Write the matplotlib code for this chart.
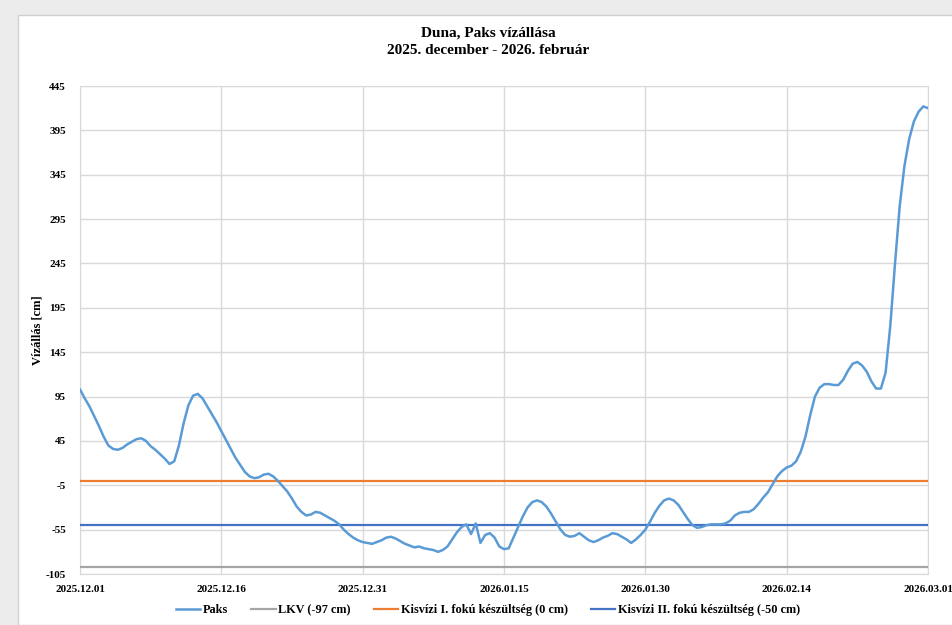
import pandas as pd
import matplotlib
matplotlib.use("Agg")
import matplotlib.pyplot as plt
import matplotlib.dates as mdates
from matplotlib.patches import Rectangle

# Paks vízállás (cm), félnapos leolvasás 2025.12.01-től
paks = [
    103, 93, 84, 73, 62, 50, 40, 36, 35, 37,
    41, 44, 47, 48, 45, 39, 35, 30, 25, 19,
    22, 40, 65, 85, 96, 98, 93, 84, 75, 66,
    56, 46, 36, 26, 18, 10, 5, 3, 4, 7,
    8, 5, 0, -6, -12, -20, -29, -35, -39, -38,
    -35, -36, -39, -42, -45, -49, -55, -60, -64, -67,
    -69, -70, -71, -69, -67, -64, -63, -65, -68, -71,
    -73, -75, -74, -76, -77, -78, -80, -78, -74, -66,
    -58, -52, -49, -60, -48, -70, -61, -59, -64, -74,
    -77, -76, -64, -52, -40, -30, -24, -22, -24, -29,
    -37, -46, -55, -61, -63, -62, -59, -63, -67, -69,
    -67, -64, -62, -59, -60, -63, -66, -70, -66, -61,
    -55, -46, -36, -28, -22, -20, -22, -27, -35, -43,
    -50, -53, -52, -50, -49, -49, -49, -48, -45, -39,
    -36, -35, -35, -32, -26, -19, -13, -4, 5, 11,
    15, 17, 22, 33, 50, 74, 95, 105, 109, 109,
    108, 108, 114, 124, 132, 134, 130, 123, 112, 104,
    104, 122, 175, 245, 310, 355, 385, 405, 416, 422,
    420,
]
idopontok = pd.date_range("2025-12-01", periods=len(paks), freq="12h")

lkv = -97
kisviz_1 = 0
kisviz_2 = -50

y_ticks = [-105, -55, -5, 45, 95, 145, 195, 245, 295, 345, 395, 445]
x_ticks = pd.to_datetime(["2025-12-01", "2025-12-16", "2025-12-31", "2026-01-15",
                          "2026-01-30", "2026-02-14", "2026-03-01"])

plt.rcParams["font.family"] = ["Liberation Serif", "DejaVu Serif"]
plt.rcParams["font.weight"] = "bold"
plt.rcParams["axes.unicode_minus"] = False

fig = plt.figure(figsize=(9.52, 6.25), dpi=100)
fig.patch.set_facecolor("#ececec")
# fehér diagramterület a szürke háttéren
fig.add_artist(Rectangle((18 / 952, 0), 1, 1 - 15 / 625, transform=fig.transFigure,
                         facecolor="white", edgecolor="#d0d0d0", lw=1, zorder=-10))

ax = fig.add_axes([80 / 952, 1 - 574 / 625, 848 / 952, 488 / 625])
ax.set_facecolor("white")

ax.plot(idopontok, paks, color="#5b9bd5", lw=1.8, label="Paks", zorder=5)
ax.axhline(lkv, color="#a5a5a5", lw=1.6, label="LKV (-97 cm)", zorder=4)
ax.axhline(kisviz_1, color="#ed7d31", lw=1.6, label="Kisvízi I. fokú készültség (0 cm)", zorder=4)
ax.axhline(kisviz_2, color="#4472c4", lw=1.6, label="Kisvízi II. fokú készültség (-50 cm)", zorder=4)

ax.set_xlim(x_ticks[0], x_ticks[-1])
ax.set_ylim(-105, 445)
ax.set_yticks(y_ticks)
ax.set_xticks(x_ticks)
ax.xaxis.set_major_formatter(mdates.DateFormatter("%Y.%m.%d"))
ax.tick_params(axis="both", length=0, labelsize=8)
ax.tick_params(axis="x", pad=8)
ax.tick_params(axis="y", pad=10)
for lbl in ax.get_xticklabels() + ax.get_yticklabels():
    lbl.set_fontweight("bold")

ax.grid(True, color="#d9d9d9", lw=1)
ax.set_axisbelow(True)
for s in ax.spines.values():
    s.set_color("#d9d9d9")

ax.set_ylabel("Vízállás [cm]", fontsize=9, fontweight="bold")
ax.yaxis.set_label_coords(-36 / 848, 0.5)

fig.text(488 / 952, 1 - 33 / 625, "Duna, Paks vízállása", ha="center", va="center",
         fontsize=11, fontweight="bold")
fig.text(488 / 952, 1 - 51 / 625, "2025. december - 2026. február", ha="center", va="center",
         fontsize=11, fontweight="bold")

fig.legend(loc="center", bbox_to_anchor=(488 / 952, 1 - 610 / 625), ncol=4, frameon=False,
           fontsize=8.8, handlelength=2.0, columnspacing=1.9, handletextpad=0.2)

fig.savefig("out.png", dpi=100, facecolor=fig.get_facecolor())
